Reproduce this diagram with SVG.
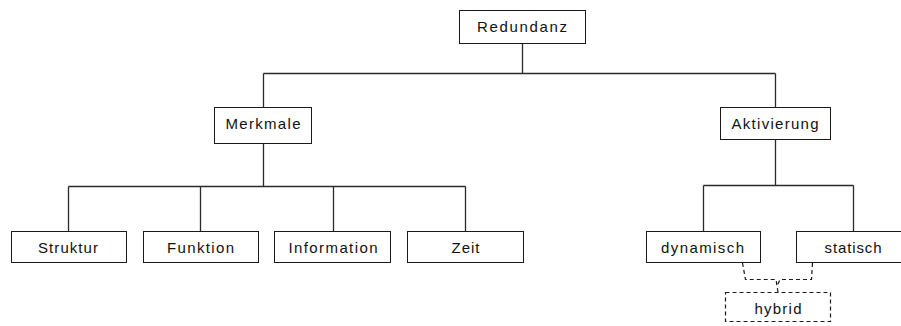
<svg xmlns="http://www.w3.org/2000/svg" width="901" height="326" viewBox="0 0 901 326">
  <style>
    .box { fill: #ffffff; stroke: #1a1a1a; stroke-width: 1; }
    .dbox { fill: #ffffff; stroke: #1a1a1a; stroke-width: 1.2; stroke-dasharray: 4 3; }
    .wire { fill: none; stroke: #2a2a2a; stroke-width: 1.3; }
    .dwire { fill: none; stroke: #1a1a1a; stroke-width: 1.2; stroke-dasharray: 4 3; }
    .lbl { font-family: "Liberation Sans", Arial, sans-serif; font-size: 15px; fill: #111111; text-anchor: middle; }
  </style>
  <rect width="901" height="326" fill="#ffffff"/>

  <!-- tree connectors -->
  <g id="connectors">
    <path class="wire" d="M522.5,43 V73.5 M263.5,73.5 H775.5 M263.5,73.5 V107 M775.5,73.5 V107"/>
    <path class="wire" d="M263.5,143 V186.5 M68.5,186.5 H465.5 M68.5,186.5 V231 M200.5,186.5 V231 M333.5,186.5 V231 M465.5,186.5 V231"/>
    <path class="wire" d="M775.5,139 V185.5 M703.5,185.5 H853.5 M703.5,185.5 V231 M853.5,185.5 V231"/>
    <path class="dwire" d="M742.5,263 L745.5,279.5 H776 L778,292 M812.5,263 L811.5,279.5 H780 L777.5,285"/>
  </g>

  <g id="redundanz">
    <rect class="box" x="459.5" y="10.5" width="126" height="33"/>
    <text class="lbl" x="522" y="32" textLength="90" lengthAdjust="spacing">Redundanz</text>
  </g>
  <g id="merkmale">
    <rect class="box" x="214.5" y="107.5" width="97" height="36"/>
    <text class="lbl" x="263" y="129" textLength="75" lengthAdjust="spacing">Merkmale</text>
  </g>
  <g id="aktivierung">
    <rect class="box" x="720.5" y="107.5" width="110" height="32"/>
    <text class="lbl" x="775" y="129" textLength="87" lengthAdjust="spacing">Aktivierung</text>
  </g>
  <g id="struktur">
    <rect class="box" x="11.5" y="231.5" width="115" height="31"/>
    <text class="lbl" x="68" y="253" textLength="60" lengthAdjust="spacing">Struktur</text>
  </g>
  <g id="funktion">
    <rect class="box" x="143.5" y="231.5" width="115" height="31"/>
    <text class="lbl" x="200.5" y="253" textLength="67" lengthAdjust="spacing">Funktion</text>
  </g>
  <g id="information">
    <rect class="box" x="274.5" y="231.5" width="116" height="31"/>
    <text class="lbl" x="333" y="253" textLength="89" lengthAdjust="spacing">Information</text>
  </g>
  <g id="zeit">
    <rect class="box" x="407.5" y="231.5" width="116" height="31"/>
    <text class="lbl" x="465.5" y="253" textLength="28" lengthAdjust="spacing">Zeit</text>
  </g>
  <g id="dynamisch">
    <rect class="box" x="646.5" y="231.5" width="114" height="31"/>
    <text class="lbl" x="702.5" y="253" textLength="83" lengthAdjust="spacing">dynamisch</text>
  </g>
  <g id="statisch">
    <rect class="box" x="796.5" y="231.5" width="114" height="31"/>
    <text class="lbl" x="853" y="253" textLength="57" lengthAdjust="spacing">statisch</text>
  </g>
  <g id="hybrid">
    <rect class="dbox" x="725.5" y="292.5" width="105" height="29"/>
    <text class="lbl" x="778" y="314" textLength="47" lengthAdjust="spacing">hybrid</text>
  </g>
</svg>
